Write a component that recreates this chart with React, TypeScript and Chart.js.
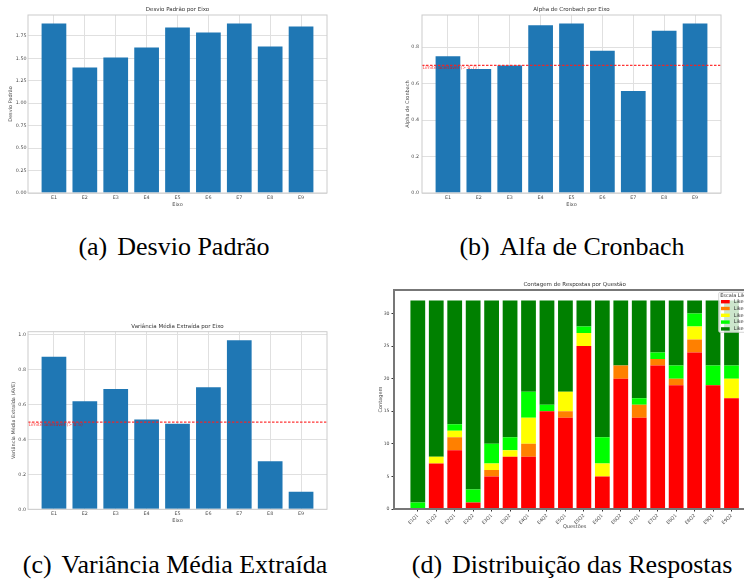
import React, { useEffect, useRef } from 'react';
import { Chart, registerables } from 'chart.js';
Chart.register(...registerables);

// ---------- data ----------
const eixos = ['E1', 'E2', 'E3', 'E4', 'E5', 'E6', 'E7', 'E8', 'E9'];
const desvioPadrao = [1.888, 1.398, 1.509, 1.621, 1.844, 1.788, 1.888, 1.632, 1.855];
const desvioTicks = [0, 0.25, 0.5, 0.75, 1.0, 1.25, 1.5, 1.75];
const alphaCronbach = [0.75, 0.68, 0.70, 0.92, 0.93, 0.78, 0.56, 0.89, 0.93];
const alphaTicks = [0, 0.2, 0.4, 0.6, 0.8];
const alphaLimite = 0.7;
const aveValores = [0.875, 0.62, 0.69, 0.515, 0.49, 0.70, 0.97, 0.275, 0.10];
const aveTicks = [0, 0.2, 0.4, 0.6, 0.8, 1.0];
const aveLimite = 0.5;

const questoes = ['E1Q1', 'E1Q2', 'E2Q1', 'E2Q2', 'E3Q1', 'E3Q2', 'E4Q1', 'E4Q2', 'E5Q1',
  'E5Q2', 'E6Q1', 'E6Q2', 'E7Q1', 'E7Q2', 'E8Q1', 'E8Q2', 'E9Q1', 'E9Q2'];
const likertLabels = ['Likert 1', 'Likert 2', 'Likert 3', 'Likert 4', 'Likert 5'];
const likertColors = ['#ff0000', '#ff8000', '#ffff00', '#00ff00', '#008000'];
const likert1 = [0, 7, 9, 1, 5, 8, 8, 15, 14, 25, 5, 20, 14, 22, 19, 24, 19, 17];
const likert2 = [0, 0, 2, 0, 1, 0, 2, 0, 1, 0, 0, 2, 2, 1, 1, 2, 0, 0];
const likert3 = [0, 1, 1, 0, 1, 1, 4, 0, 3, 2, 2, 0, 0, 0, 0, 2, 0, 3];
const likert4 = [1, 0, 1, 2, 3, 2, 4, 1, 0, 1, 4, 0, 1, 1, 2, 2, 3, 2];
const likert5 = [31, 24, 19, 29, 22, 21, 14, 16, 14, 4, 21, 10, 15, 8, 10, 2, 10, 10];
const contagemTicks = [0, 5, 10, 15, 20, 25, 30];

// ---------- styles ----------
const FONT = '"DejaVu Sans", sans-serif';
const TXT = '#4a4a4a';
const GRID = '#e0e0e0';
const FRAME = '#cccccc';

function xLimits(n: number): [number, number] {
  const margin = 0.05 * (n - 1 + 0.8);
  return [-0.4 - margin, n - 1 + 0.4 + margin];
}

type WG = {
  title: string;
  labels: string[];
  values: number[];
  yTicks: number[];
  yDec: number;
  yTitle: string;
  yWidth: number;
  yTitlePad: number;
  yTickPad: number;
  padTop: number;
  padRight: number;
  plotBottom: number;
  height: number;
  limite?: number;
  limiteText?: string;
};

function titlePlugin(text: string) {
  return {
    id: 'customTitle',
    afterDraw(chart: any) {
      const { ctx, chartArea } = chart;
      ctx.save();
      ctx.font = `5.5px ${FONT}`;
      ctx.fillStyle = '#333';
      ctx.textAlign = 'center';
      ctx.textBaseline = 'middle';
      ctx.fillText(text, (chartArea.left + chartArea.right) / 2, chartArea.top - 5.5);
      ctx.restore();
    },
  };
}

function framePlugin(color: string, width: number) {
  return {
    id: 'frame',
    afterDatasetsDraw(chart: any) {
      const { ctx, chartArea } = chart;
      ctx.save();
      ctx.strokeStyle = color;
      ctx.lineWidth = width;
      ctx.strokeRect(chartArea.left, chartArea.top, chartArea.right - chartArea.left, chartArea.bottom - chartArea.top);
      ctx.restore();
    },
  };
}

function makeWhitegrid(canvas: HTMLCanvasElement, o: WG) {
  const [xmin, xmax] = xLimits(o.labels.length);
  const ymax = Math.max(...o.values) * 1.05;
  const datasets: any[] = [];
  if (o.limite !== undefined) {
    datasets.push({
      type: 'line',
      data: [{ x: xmin, y: o.limite }, { x: xmax, y: o.limite }],
      borderColor: 'rgba(255,30,30,0.9)',
      borderWidth: 1.1,
      borderDash: [2.5, 1.5],
      pointRadius: 0,
      order: 0,
    });
  }
  datasets.push({
    type: 'bar',
    data: o.values.map((v, i) => ({ x: i, y: v })),
    backgroundColor: '#1f77b4',
    barPercentage: 0.8,
    categoryPercentage: 1,
    order: 1,
  });
  const xH = 16;
  const plugins: any[] = [titlePlugin(o.title), framePlugin(FRAME, 1)];
  if (o.limite !== undefined && o.limiteText) {
    const lim = o.limite;
    const txt = o.limiteText;
    plugins.push({
      id: 'limText',
      afterDraw(chart: any) {
        const { ctx, chartArea, scales } = chart;
        const y = scales.y.getPixelForValue(lim);
        ctx.save();
        ctx.font = `4.6px ${FONT}`;
        ctx.fillStyle = 'rgba(255,0,0,0.8)';
        ctx.textAlign = 'left';
        ctx.textBaseline = 'top';
        ctx.fillText(txt, chartArea.left + 0.5, y + 0.3);
        ctx.restore();
      },
    });
  }
  return new Chart(canvas, {
    type: 'bar',
    data: { datasets },
    plugins,
    options: {
      responsive: false,
      maintainAspectRatio: false,
      animation: false,
      devicePixelRatio: 1,
      layout: { padding: { left: 0, right: o.padRight, top: o.padTop, bottom: o.height - o.plotBottom - xH } },
      plugins: { legend: { display: false }, tooltip: { enabled: false }, title: { display: false } },
      scales: {
        x: {
          type: 'linear',
          min: xmin,
          max: xmax,
          offset: false,
          afterBuildTicks: (s: any) => { s.ticks = o.labels.map((_, i) => ({ value: i })); },
          afterFit: (s: any) => { s.height = xH; },
          ticks: {
            autoSkip: false,
            maxRotation: 0,
            minRotation: 0,
            padding: 2,
            font: { size: 4.8, family: FONT },
            color: TXT,
            callback: (v: any) => o.labels[Math.round(v)] ?? '',
          },
          grid: { color: GRID, lineWidth: 1, drawTicks: false, offset: false },
          border: { display: false },
          title: { display: true, text: 'Eixo', font: { size: 5, family: FONT }, color: TXT, padding: { top: 0, bottom: 1.3 } },
        },
        y: {
          type: 'linear',
          min: 0,
          max: ymax,
          afterBuildTicks: (s: any) => { s.ticks = o.yTicks.map((v) => ({ value: v })); },
          afterFit: (s: any) => { s.width = o.yWidth; },
          ticks: {
            padding: o.yTickPad,
            font: { size: 4.8, family: FONT },
            color: TXT,
            callback: (v: any) => Number(v).toFixed(o.yDec),
          },
          grid: { color: GRID, lineWidth: 1, drawTicks: false },
          border: { display: false },
          title: { display: true, text: o.yTitle, font: { size: 5, family: FONT }, color: TXT, padding: { top: o.yTitlePad, bottom: 0 } },
        },
      },
    } as any,
  });
}

function makeStacked(canvas: HTMLCanvasElement, height: number) {
  const [xmin, xmax] = xLimits(questoes.length);
  const series = [likert1, likert2, likert3, likert4, likert5];
  const totals = questoes.map((_, i) => series.reduce((a, s) => a + s[i], 0));
  const ymax = Math.max(...totals) * 1.05;
  const datasets = series.map((s, k) => ({
    type: 'bar',
    label: likertLabels[k],
    data: s.map((v, i) => ({ x: i, y: v })),
    backgroundColor: likertColors[k],
    barPercentage: 0.8,
    categoryPercentage: 1,
  }));
  const xH = 22;
  const plotBottom = 234;
  const legendPlugin = {
    id: 'likertLegend',
    afterDraw(chart: any) {
      const { ctx, chartArea } = chart;
      const x0 = chartArea.right - 36.6;
      const y0 = chartArea.top + 2.3;
      const w = 34;
      const h = 40;
      ctx.save();
      ctx.fillStyle = 'rgba(255,255,255,0.8)';
      ctx.strokeStyle = '#cccccc';
      ctx.lineWidth = 0.8;
      ctx.beginPath();
      (ctx as any).roundRect ? (ctx as any).roundRect(x0, y0, w, h, 1.5) : ctx.rect(x0, y0, w, h);
      ctx.fill();
      ctx.stroke();
      ctx.font = `5px ${FONT}`;
      ctx.fillStyle = '#333';
      ctx.textBaseline = 'middle';
      ctx.textAlign = 'left';
      ctx.fillText('Escala Likert', x0 + 1.5, y0 + 3.4);
      chart.data.datasets.forEach((ds: any, k: number) => {
        const cy = y0 + 9.4 + k * 6.8;
        ctx.fillStyle = ds.backgroundColor;
        ctx.fillRect(x0 + 2.3, cy - 1.7, 8.7, 3.4);
        ctx.fillStyle = '#333';
        ctx.fillText(ds.label, x0 + 15, cy);
      });
      ctx.restore();
    },
  };
  return new Chart(canvas, {
    type: 'bar',
    data: { datasets } as any,
    plugins: [titlePlugin('Contagem de Respostas por Questão'), framePlugin('#777777', 2), legendPlugin],
    options: {
      responsive: false,
      maintainAspectRatio: false,
      animation: false,
      devicePixelRatio: 1,
      layout: { padding: { left: 0, right: 400 - 383.3, top: 15, bottom: height - plotBottom - xH } },
      plugins: { legend: { display: false }, tooltip: { enabled: false }, title: { display: false } },
      scales: {
        x: {
          type: 'linear',
          stacked: true,
          min: xmin,
          max: xmax,
          offset: false,
          afterBuildTicks: (s: any) => { s.ticks = questoes.map((_, i) => ({ value: i })); },
          afterFit: (s: any) => { s.height = xH; },
          ticks: {
            autoSkip: false,
            maxRotation: 45,
            minRotation: 45,
            padding: 1.5,
            font: { size: 4.6, family: FONT },
            color: TXT,
            callback: (v: any) => questoes[Math.round(v)] ?? '',
          },
          grid: { drawOnChartArea: false, drawTicks: true, tickLength: 2.5, tickColor: '#000', tickWidth: 0.8, offset: false },
          border: { display: false },
          title: { display: true, text: 'Questões', font: { size: 5, family: FONT }, color: TXT, padding: { top: 0, bottom: 1 } },
        },
        y: {
          type: 'linear',
          stacked: true,
          min: 0,
          max: ymax,
          afterBuildTicks: (s: any) => { s.ticks = contagemTicks.map((v) => ({ value: v })); },
          afterFit: (s: any) => { s.width = 22; },
          ticks: {
            padding: 2,
            font: { size: 4.6, family: FONT },
            color: TXT,
            callback: (v: any) => String(v),
          },
          grid: { drawOnChartArea: false, drawTicks: true, tickLength: 2.5, tickColor: '#000', tickWidth: 0.8 },
          border: { display: false },
          title: { display: true, text: 'Contagem', font: { size: 5, family: FONT }, color: TXT, padding: { top: 6, bottom: 0 } },
        },
      },
    } as any,
  });
}

const CAP_FONT = '"Liberation Serif", "Times New Roman", serif';

function Caption(props: { left: number; width: number; top: number; tag: string; text: string }) {
  return (
    <div
      style={{
        position: 'absolute',
        left: props.left,
        top: props.top,
        width: props.width,
        height: 30,
        lineHeight: '30px',
        textAlign: 'center',
        fontFamily: CAP_FONT,
        fontSize: 26,
        color: '#000',
        whiteSpace: 'nowrap',
      }}
    >
      {props.tag}
      <span style={{ marginLeft: 10 }}>{props.text}</span>
    </div>
  );
}

export default function App() {
  const aRef = useRef<HTMLCanvasElement>(null);
  const bRef = useRef<HTMLCanvasElement>(null);
  const cRef = useRef<HTMLCanvasElement>(null);
  const dRef = useRef<HTMLCanvasElement>(null);

  useEffect(() => {
    const charts: Chart[] = [];
    charts.push(makeWhitegrid(aRef.current!, {
      title: 'Desvio Padrão por Eixo', labels: eixos, values: desvioPadrao, yTicks: desvioTicks, yDec: 2,
      yTitle: 'Desvio Padrão', yWidth: 28, yTitlePad: 8, yTickPad: 1.5, padTop: 15, padRight: 45,
      plotBottom: 193, height: 225,
    }));
    charts.push(makeWhitegrid(bRef.current!, {
      title: 'Alpha de Cronbach por Eixo', labels: eixos, values: alphaCronbach, yTicks: alphaTicks, yDec: 1,
      yTitle: 'Alpha de Cronbach', yWidth: 50, yTitlePad: 33, yTickPad: 3, padTop: 15, padRight: 23,
      plotBottom: 193, height: 225, limite: alphaLimite, limiteText: 'Limite aceitável (> 0.7)',
    }));
    charts.push(makeWhitegrid(cRef.current!, {
      title: 'Variância Média Extraída por Eixo', labels: eixos, values: aveValores, yTicks: aveTicks, yDec: 1,
      yTitle: 'Variância Média Extraída (AVE)', yWidth: 28, yTitlePad: 11, yTickPad: 2, padTop: 21.7, padRight: 45,
      plotBottom: 199.3, height: 225, limite: aveLimite, limiteText: 'Limite aceitável (> 0.5)',
    }));
    charts.push(makeStacked(dRef.current!, 262));
    return () => charts.forEach((c) => c.destroy());
  }, []);

  const cv = (left: number, top: number, w: number, h: number) => ({
    position: 'absolute' as const, left, top, width: w, height: h, display: 'block',
  });

  return (
    <div style={{ position: 'absolute', left: 0, top: 0, width: 744, height: 581, overflow: 'hidden', background: '#fff' }}>
      <canvas ref={aRef} width={372} height={225} style={cv(0, 0, 372, 225)} />
      <canvas ref={bRef} width={372} height={225} style={cv(372, 0, 372, 225)} />
      <canvas ref={cRef} width={372} height={225} style={cv(0, 310, 372, 225)} />
      <canvas ref={dRef} width={400} height={262} style={cv(372, 275, 400, 262)} />
      <Caption left={0} width={348} top={232} tag="(a)" text="Desvio Padrão" />
      <Caption left={372} width={400} top={232} tag="(b)" text="Alfa de Cronbach" />
      <Caption left={0} width={350} top={550} tag="(c)" text="Variância Média Extraída" />
      <Caption left={372} width={400} top={550} tag="(d)" text="Distribuição das Respostas" />
    </div>
  );
}
